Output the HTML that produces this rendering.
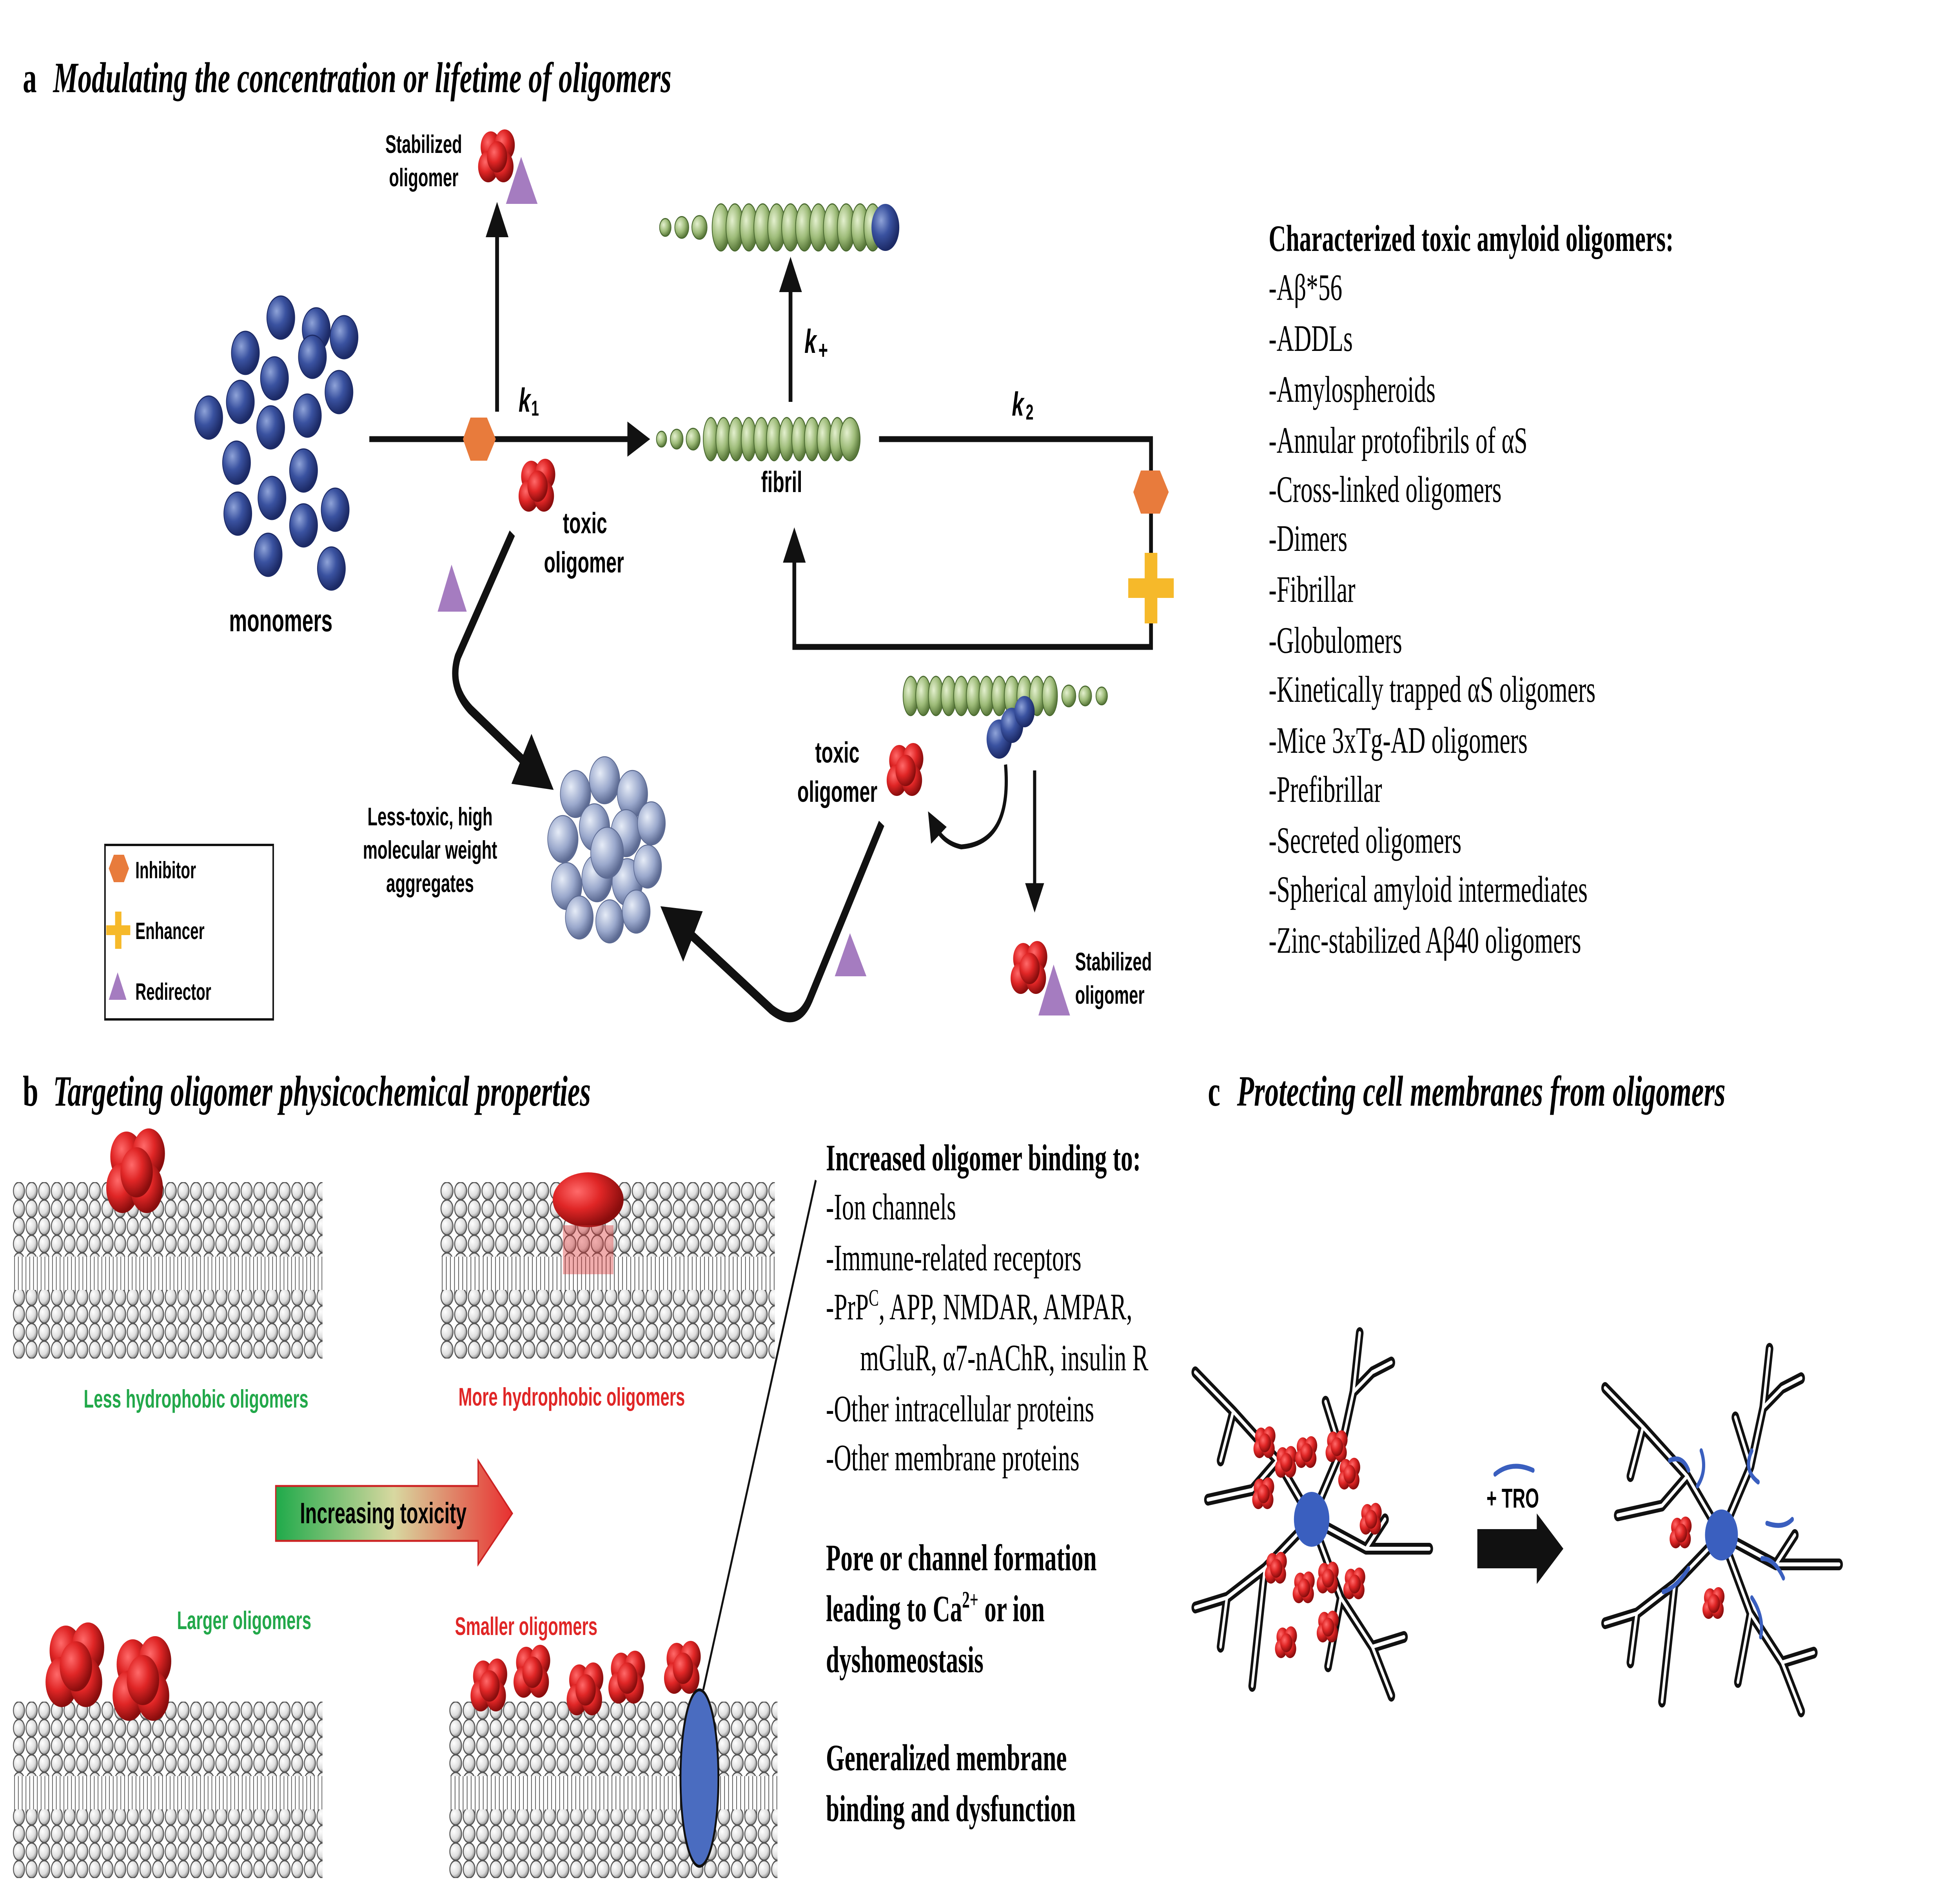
<!DOCTYPE html>
<html><head><meta charset="utf-8"><style>
html,body{margin:0;padding:0;background:#fff;width:100%;height:100%;overflow:hidden}
svg{display:block;width:100vw;height:100vh;position:absolute;left:0;top:0}
.s{font-family:"Liberation Sans",sans-serif;font-weight:bold}
.r{font-family:"Liberation Serif",serif}
</style></head><body>
<svg viewBox="0 0 1549.6 964.6" preserveAspectRatio="none" xmlns="http://www.w3.org/2000/svg">
<defs>
<radialGradient id="gb" cx="35%" cy="35%" r="65%"><stop offset="0" stop-color="#8fa3d8"/><stop offset="0.5" stop-color="#3a52a0"/><stop offset="1" stop-color="#1c2a66"/></radialGradient>
<radialGradient id="gr" cx="35%" cy="35%" r="65%"><stop offset="0" stop-color="#ff6a6a"/><stop offset="0.5" stop-color="#e02626"/><stop offset="1" stop-color="#8a0d0d"/></radialGradient>
<radialGradient id="gg" cx="35%" cy="35%" r="65%"><stop offset="0" stop-color="#e4f0cf"/><stop offset="0.6" stop-color="#9dbb78"/><stop offset="1" stop-color="#5b7a3c"/></radialGradient>
<radialGradient id="ga" cx="35%" cy="35%" r="65%"><stop offset="0" stop-color="#e6ecf7"/><stop offset="0.6" stop-color="#9aa8cc"/><stop offset="1" stop-color="#5c6a92"/></radialGradient>
<radialGradient id="gw" cx="35%" cy="35%" r="65%"><stop offset="0" stop-color="#fff"/><stop offset="0.7" stop-color="#ddd"/><stop offset="1" stop-color="#999"/></radialGradient>
<linearGradient id="arr" x1="0" x2="1"><stop offset="0" stop-color="#1faa4a"/><stop offset="0.5" stop-color="#d8d8a0"/><stop offset="1" stop-color="#e83030"/></linearGradient>
<pattern id="heads" width="10" height="9" patternUnits="userSpaceOnUse"><circle cx="5" cy="4.5" r="4.4" fill="url(#gw)" stroke="#555" stroke-width="0.7"/></pattern>
<pattern id="tails" width="3" height="10" patternUnits="userSpaceOnUse"><line x1="1.5" y1="0" x2="1.5" y2="10" stroke="#444" stroke-width="0.5"/></pattern>
<g id="red"><circle cx="-5" cy="-5" r="8" fill="url(#gr)"/><circle cx="6" cy="-6" r="8" fill="url(#gr)"/><circle cx="-7" cy="5" r="8" fill="url(#gr)"/><circle cx="5" cy="5" r="8" fill="url(#gr)"/><circle cx="0" cy="0" r="8" fill="url(#gr)"/></g>
<g id="mem"><rect x="0" y="0" width="245" height="38" fill="url(#heads)"/><rect x="0" y="38" width="245" height="20" fill="url(#tails)"/><rect x="0" y="55" width="245" height="35" fill="url(#heads)"/></g>
<path id="nd" d="M1037,775 L1010,745 L975,720 L945,700 M975,720 L965,745 M1010,745 L990,760 L955,765 M1037,775 L1060,740 L1070,710 L1075,680 M1070,710 L1085,700 L1100,695 M1060,740 L1048,715 M1037,775 L1080,790 L1130,790 M1080,790 L1095,775 M1037,775 L1000,800 L970,815 L945,820 M1000,800 L995,830 L990,860 M970,815 L965,840 M1037,775 L1060,815 L1085,840 L1100,865 M1060,815 L1050,850 M1085,840 L1110,835"/>
<marker id="ah" markerWidth="6" markerHeight="6" refX="3" refY="3" orient="auto" markerUnits="strokeWidth"><path d="M0,0 L6,3 L0,6 z" fill="#111"/></marker>
</defs>

<text x="18" y="47" class="r" font-size="22" font-weight="bold">a</text>
<text x="42" y="47" class="r" font-size="22" font-style="italic" font-weight="bold">Modulating the concentration or lifetime of oligomers</text>

<g fill="url(#gb)" stroke="#1c2a66" stroke-width="0.6">
<circle cx="222" cy="162" r="11"/><circle cx="250" cy="168" r="11"/><circle cx="272" cy="172" r="11"/><circle cx="194" cy="180" r="11"/><circle cx="217" cy="193" r="11"/><circle cx="247" cy="182" r="11"/><circle cx="165" cy="213" r="11"/><circle cx="190" cy="205" r="11"/><circle cx="214" cy="218" r="11"/><circle cx="243" cy="212" r="11"/><circle cx="268" cy="200" r="11"/><circle cx="187" cy="236" r="11"/><circle cx="240" cy="240" r="11"/><circle cx="188" cy="262" r="11"/><circle cx="215" cy="254" r="11"/><circle cx="240" cy="268" r="11"/><circle cx="265" cy="260" r="11"/><circle cx="212" cy="283" r="11"/><circle cx="262" cy="290" r="11"/>
</g>
<text x="222" y="322" class="s" font-size="16" text-anchor="middle">monomers</text>

<g stroke="#111" stroke-width="3" fill="none">
<line x1="292" y1="224" x2="505" y2="224" marker-end="url(#ah)"/>
<line x1="393" y1="210" x2="393" y2="112" marker-end="url(#ah)"/>
<line x1="625" y1="205" x2="625" y2="140" marker-end="url(#ah)"/>
<polyline points="695,224 910,224 910,330 628,330 628,278" marker-end="url(#ah)"/>
<line x1="818" y1="393" x2="818" y2="458" marker-end="url(#ah)" stroke-width="2.5"/>
</g>
<g stroke="#111" stroke-width="5" fill="none" stroke-linejoin="round">
<path d="M405,272 L362,335 Q355,350 372,362 L425,395" marker-end="url(#ah)"/>
<path d="M697,420 L640,510 Q630,525 610,515 L535,470" marker-end="url(#ah)"/>
</g>
<path d="M795,390 Q800,430 760,432 Q745,430 738,420" stroke="#111" stroke-width="2.5" fill="none" marker-end="url(#ah)"/>

<polygon points="366,224 372,213 385,213 392,224 385,235 372,235" fill="#e87b3c"/>
<polygon points="896,251 902,240 917,240 924,251 917,262 902,262" fill="#e87b3c"/>
<path d="M905,282 h10 v13 h13 v10 h-13 v13 h-10 v-13 h-13 v-10 h13z" fill="#f6b92a"/>
<polygon points="357,288 346,312 369,312" fill="#a57cc0"/>
<polygon points="672,476 660,498 685,498" fill="#a57cc0"/>

<text x="410" y="210" class="s" font-size="17" font-style="italic">k</text><text x="420" y="212" class="s" font-size="11">1</text>
<text x="636" y="180" class="s" font-size="17" font-style="italic">k</text><text x="647" y="183" class="s" font-size="13">+</text>
<text x="800" y="212" class="s" font-size="17" font-style="italic">k</text><text x="811" y="214" class="s" font-size="11">2</text>

<g fill="url(#gg)" stroke="#4a6a30" stroke-width="0.6">
<circle cx="523" cy="224" r="4"/><circle cx="535" cy="224" r="5"/><circle cx="548" cy="224" r="5.5"/>
<ellipse cx="562" cy="224" rx="6" ry="11"/><ellipse cx="572" cy="224" rx="6" ry="11"/><ellipse cx="582" cy="224" rx="6" ry="11"/><ellipse cx="592" cy="224" rx="6" ry="11"/><ellipse cx="602" cy="224" rx="6" ry="11"/><ellipse cx="612" cy="224" rx="6" ry="11"/><ellipse cx="622" cy="224" rx="6" ry="11"/><ellipse cx="632" cy="224" rx="6" ry="11"/><ellipse cx="642" cy="224" rx="6" ry="11"/><ellipse cx="652" cy="224" rx="6" ry="11"/><ellipse cx="662" cy="224" rx="6" ry="11"/><ellipse cx="672" cy="224" rx="8" ry="11"/>
</g>
<text x="618" y="251" class="s" font-size="15" text-anchor="middle">fibril</text>
<g fill="url(#gg)" stroke="#4a6a30" stroke-width="0.6">
<circle cx="526" cy="116" r="4.5"/><circle cx="539" cy="116" r="5.5"/><circle cx="553" cy="116" r="6"/>
<ellipse cx="570" cy="116" rx="7" ry="12"/><ellipse cx="581" cy="116" rx="7" ry="12"/><ellipse cx="592" cy="116" rx="7" ry="12"/><ellipse cx="603" cy="116" rx="7" ry="12"/><ellipse cx="614" cy="116" rx="7" ry="12"/><ellipse cx="625" cy="116" rx="7" ry="12"/><ellipse cx="636" cy="116" rx="7" ry="12"/><ellipse cx="647" cy="116" rx="7" ry="12"/><ellipse cx="658" cy="116" rx="7" ry="12"/><ellipse cx="669" cy="116" rx="7" ry="12"/><ellipse cx="680" cy="116" rx="7" ry="12"/><ellipse cx="690" cy="116" rx="7" ry="12"/>
</g>
<ellipse cx="700" cy="116" rx="11" ry="12" fill="url(#gb)"/>
<g fill="url(#gg)" stroke="#4a6a30" stroke-width="0.6">
<ellipse cx="720" cy="355" rx="6" ry="10"/><ellipse cx="730" cy="355" rx="6" ry="10"/><ellipse cx="740" cy="355" rx="6" ry="10"/><ellipse cx="750" cy="355" rx="6" ry="10"/><ellipse cx="760" cy="355" rx="6" ry="10"/><ellipse cx="770" cy="355" rx="6" ry="10"/><ellipse cx="780" cy="355" rx="6" ry="10"/><ellipse cx="790" cy="355" rx="6" ry="10"/><ellipse cx="800" cy="355" rx="6" ry="10"/><ellipse cx="810" cy="355" rx="6" ry="10"/><ellipse cx="820" cy="355" rx="6" ry="10"/><ellipse cx="830" cy="355" rx="6" ry="10"/>
<circle cx="845" cy="355" r="5.5"/><circle cx="858" cy="355" r="5"/><circle cx="871" cy="355" r="4.5"/>
</g>
<g fill="url(#gb)"><circle cx="790" cy="377" r="10"/><circle cx="800" cy="370" r="9"/><circle cx="810" cy="363" r="8"/></g>

<use href="#red" x="393" y="80"/><polygon points="412,80 400,104 425,104" fill="#a57cc0"/>
<text x="335" y="78" class="s" font-size="13" text-anchor="middle">Stabilized</text>
<text x="335" y="95" class="s" font-size="13" text-anchor="middle">oligomer</text>
<use href="#red" x="425" y="248"/>
<text x="445" y="272" class="s" font-size="15">toxic</text><text x="430" y="292" class="s" font-size="15">oligomer</text>
<use href="#red" x="716" y="393"/>
<text x="662" y="389" class="s" font-size="15" text-anchor="middle">toxic</text><text x="662" y="409" class="s" font-size="15" text-anchor="middle">oligomer</text>
<use href="#red" x="814" y="494"/><polygon points="833,492 821,518 846,518" fill="#a57cc0"/>
<text x="850" y="495" class="s" font-size="13">Stabilized</text><text x="850" y="512" class="s" font-size="13">oligomer</text>

<g fill="url(#ga)" stroke="#5c6a92" stroke-width="0.5">
<circle cx="455" cy="405" r="12"/><circle cx="478" cy="398" r="12"/><circle cx="500" cy="405" r="12"/><circle cx="445" cy="428" r="12"/><circle cx="470" cy="422" r="12"/><circle cx="495" cy="425" r="12"/><circle cx="515" cy="420" r="11"/><circle cx="448" cy="452" r="12"/><circle cx="472" cy="448" r="12"/><circle cx="496" cy="450" r="12"/><circle cx="512" cy="442" r="11"/><circle cx="458" cy="468" r="11"/><circle cx="482" cy="470" r="11"/><circle cx="503" cy="465" r="11"/><circle cx="480" cy="435" r="13"/>
</g>
<text x="340" y="421" class="s" font-size="13" text-anchor="middle">Less-toxic, high</text>
<text x="340" y="438" class="s" font-size="13" text-anchor="middle">molecular weight</text>
<text x="340" y="455" class="s" font-size="13" text-anchor="middle">aggregates</text>

<rect x="83" y="431" width="133" height="89" fill="none" stroke="#111" stroke-width="1.2"/>
<polygon points="86,443 90,436 98,436 102,443 98,450 90,450" fill="#e87b3c"/>
<text x="107" y="448" class="s" font-size="12">Inhibitor</text>
<path d="M91,465 h5 v7 h7 v5 h-7 v7 h-5 v-7 h-7 v-5 h7z" fill="#f6b92a"/>
<text x="107" y="479" class="s" font-size="12">Enhancer</text>
<polygon points="93,496 86,510 100,510" fill="#a57cc0"/>
<text x="107" y="510" class="s" font-size="12">Redirector</text>

<g class="r" font-size="19">
<text x="1003" y="128" font-weight="bold">Characterized toxic amyloid oligomers:</text>
<text x="1003" y="153">-Aβ*56</text>
<text x="1003" y="179">-ADDLs</text>
<text x="1003" y="205">-Amylospheroids</text>
<text x="1003" y="231">-Annular protofibrils of αS</text>
<text x="1003" y="256">-Cross-linked oligomers</text>
<text x="1003" y="281">-Dimers</text>
<text x="1003" y="307">-Fibrillar</text>
<text x="1003" y="333">-Globulomers</text>
<text x="1003" y="358">-Kinetically trapped αS oligomers</text>
<text x="1003" y="384">-Mice 3xTg-AD oligomers</text>
<text x="1003" y="409">-Prefibrillar</text>
<text x="1003" y="435">-Secreted oligomers</text>
<text x="1003" y="460">-Spherical amyloid intermediates</text>
<text x="1003" y="486">-Zinc-stabilized Aβ40 oligomers</text>
</g>

<text x="18" y="564" class="r" font-size="22" font-weight="bold">b</text>
<text x="42" y="564" class="r" font-size="22" font-style="italic" font-weight="bold">Targeting oligomer physicochemical properties</text>
<use href="#mem" x="10" y="603"/>
<g transform="translate(348,603) scale(1.08,1)"><use href="#mem"/></g>
<use href="#mem" x="10" y="868"/>
<g transform="translate(355,868) scale(1.06,1)"><use href="#mem"/></g>
<g transform="translate(108,598) scale(1.6)"><use href="#red"/></g>
<ellipse cx="465" cy="612" rx="28" ry="14" fill="url(#gr)"/>
<rect x="445" y="625" width="40" height="25" fill="#d33" opacity="0.4"/>
<text x="155" y="718" class="s" font-size="13" fill="#22a84a" text-anchor="middle">Less hydrophobic oligomers</text>
<text x="452" y="717" class="s" font-size="13" fill="#e02626" text-anchor="middle">More hydrophobic oligomers</text>
<polygon points="218,758 378,758 378,745 405,772 378,798 378,786 218,786" fill="url(#arr)" stroke="#c22" stroke-width="1"/>
<text x="303" y="777" class="s" font-size="15" text-anchor="middle">Increasing toxicity</text>
<text x="193" y="831" class="s" font-size="13" fill="#22a84a" text-anchor="middle">Larger oligomers</text>
<text x="416" y="834" class="s" font-size="13" fill="#e02626" text-anchor="middle">Smaller oligomers</text>
<g transform="translate(60,850) scale(1.6)"><use href="#red"/></g>
<g transform="translate(113,857) scale(1.6)"><use href="#red"/></g>
<use href="#red" x="387" y="860"/><use href="#red" x="421" y="853"/><use href="#red" x="463" y="862"/><use href="#red" x="496" y="856"/><use href="#red" x="540" y="851"/>
<line x1="556" y1="862" x2="645" y2="602" stroke="#111" stroke-width="1.5"/>
<ellipse cx="553" cy="907" rx="15" ry="45" fill="#4a6cc0" stroke="#111" stroke-width="1.5"/>

<g class="r" font-size="19">
<text x="653" y="597" font-weight="bold">Increased oligomer binding to:</text>
<text x="653" y="622">-Ion channels</text>
<text x="653" y="648">-Immune-related receptors</text>
<text x="653" y="673">-PrP<tspan font-size="12" dy="-7">C</tspan><tspan dy="7">, APP, NMDAR, AMPAR,</tspan></text>
<text x="680" y="699">mGluR, α7-nAChR, insulin R</text>
<text x="653" y="725">-Other intracellular proteins</text>
<text x="653" y="750">-Other membrane proteins</text>
<text x="653" y="801" font-weight="bold">Pore or channel formation</text>
<text x="653" y="827" font-weight="bold">leading to Ca<tspan font-size="12" dy="-7">2+</tspan><tspan dy="7"> or ion</tspan></text>
<text x="653" y="853" font-weight="bold">dyshomeostasis</text>
<text x="653" y="903" font-weight="bold">Generalized membrane</text>
<text x="653" y="929" font-weight="bold">binding and dysfunction</text>
</g>

<text x="955" y="564" class="r" font-size="22" font-weight="bold">c</text>
<text x="978" y="564" class="r" font-size="22" font-style="italic" font-weight="bold">Protecting cell membranes from oligomers</text>

<g fill="none" stroke-linecap="round" stroke-linejoin="round">
<use href="#nd" stroke="#111" stroke-width="6"/>
<use href="#nd" stroke="#fff" stroke-width="2"/>
<g transform="translate(324,8)">
<use href="#nd" stroke="#111" stroke-width="6"/>
<use href="#nd" stroke="#fff" stroke-width="2"/>
</g>
</g>
<circle cx="1037" cy="775" r="14" fill="#3a5fbf"/>
<circle cx="1361" cy="783" r="13" fill="#3a5fbf"/>
<g transform="translate(1000,736) scale(.6)"><use href="#red"/></g>
<g transform="translate(1017,746) scale(.6)"><use href="#red"/></g>
<g transform="translate(1033,741) scale(.6)"><use href="#red"/></g>
<g transform="translate(1057,738) scale(.6)"><use href="#red"/></g>
<g transform="translate(1067,752) scale(.6)"><use href="#red"/></g>
<g transform="translate(1084,775) scale(.6)"><use href="#red"/></g>
<g transform="translate(999,762) scale(.6)"><use href="#red"/></g>
<g transform="translate(1009,800) scale(.6)"><use href="#red"/></g>
<g transform="translate(1031,810) scale(.6)"><use href="#red"/></g>
<g transform="translate(1050,805) scale(.6)"><use href="#red"/></g>
<g transform="translate(1071,808) scale(.6)"><use href="#red"/></g>
<g transform="translate(1017,838) scale(.6)"><use href="#red"/></g>
<g transform="translate(1050,830) scale(.6)"><use href="#red"/></g>
<g transform="translate(1329,782) scale(.6)"><use href="#red"/></g>
<g transform="translate(1355,818) scale(.6)"><use href="#red"/></g>
<g fill="none" stroke="#3a5fbf" stroke-width="2.5" stroke-linecap="round">
<path d="M1345,740 Q1350,750 1342,758"/><path d="M1385,740 Q1378,750 1390,756"/><path d="M1397,777 Q1410,780 1417,775"/><path d="M1393,795 Q1403,795 1410,805"/><path d="M1385,815 Q1395,825 1392,835"/><path d="M1335,800 Q1325,810 1315,812"/><path d="M1320,745 Q1330,742 1335,750"/>
<path d="M1182,752 Q1195,745 1212,750"/>
</g>
<text x="1196" y="769" class="s" font-size="14" text-anchor="middle">+ TRO</text>
<polygon points="1168,780 1215,780 1215,772 1236,790 1215,808 1215,800 1168,800" fill="#111"/>
</svg>
</body></html>
